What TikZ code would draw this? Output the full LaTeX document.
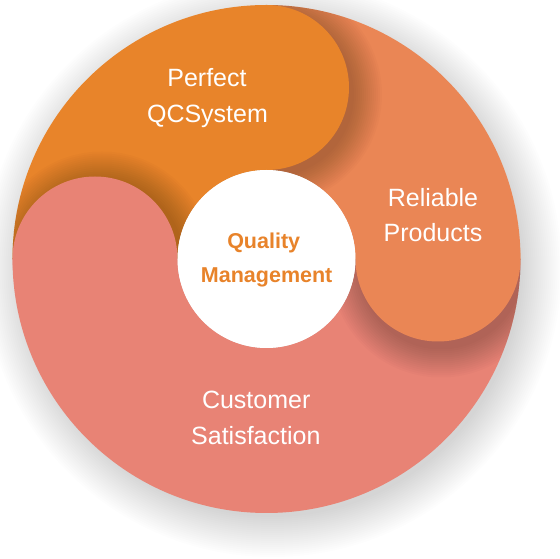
\documentclass[tikz,border=0pt]{standalone}
\usepackage{fontspec}
\setmainfont{Liberation Sans}
\usetikzlibrary{calc}
\definecolor{segOrange}{HTML}{E8842A}
\definecolor{segRight}{HTML}{EA8655}
\definecolor{segPink}{HTML}{E88375}
\definecolor{qmText}{HTML}{E8832A}
\tikzset{
  lab/.style={anchor=base,inner sep=0pt,text=white,font=\fontsize{25}{30}\selectfont},
  qm/.style={anchor=base,inner sep=0pt,text=qmText,font=\bfseries\fontsize{21.5}{26}\selectfont},
  shadowlayer/.style={fill=black,opacity=0.017},
}
\begin{document}
\begin{tikzpicture}[x=1pt,y=1pt]
\def\R{254}\def\r{89}\def\m{171.5}\def\c{82.5}
\useasboundingbox (-266.5,-300) rectangle (293.5,259);
\fill[white] (-266.5,-300) rectangle (293.5,259);
% drop shadow of the whole disc
\foreach \k in {0,...,20}{\fill[black,opacity=0.009] (6,-9) circle ({\R-5+2*\k});}
% ring sectors
\fill[segRight] (0:\r) -- (0:\R) arc[start angle=0,end angle=90,radius=\R] -- (90:\r) arc[start angle=90,end angle=0,radius=\r] -- cycle;
\fill[segOrange] (90:\r) -- (90:\R) arc[start angle=90,end angle=180,radius=\R] -- (180:\r) arc[start angle=180,end angle=90,radius=\r] -- cycle;
\fill[segPink] (180:\r) -- (180:\R) arc[start angle=180,end angle=360,radius=\R] -- (360:\r) arc[start angle=360,end angle=180,radius=\r] -- cycle;
% shadow of the orange cap on the right sector
\begin{scope}
\clip (0:\r) -- (0:\R) arc[start angle=0,end angle=90,radius=\R] -- (90:\r) arc[start angle=90,end angle=0,radius=\r] -- cycle;
\foreach \k in {0,...,14}{\fill[shadowlayer] (5,\m-7) circle ({\c+2*\k});}
\end{scope}
% shadow of the right cap on the pink sector
\begin{scope}
\clip (180:\r) -- (180:\R) arc[start angle=180,end angle=360,radius=\R] -- (360:\r) arc[start angle=360,end angle=180,radius=\r] -- cycle;
\foreach \k in {0,...,14}{\fill[shadowlayer] (\m+3,-8) circle ({\c+2*\k});}
\end{scope}
% shadow of the pink cap on the orange sector
\begin{scope}
\clip (90:\r) -- (90:\R) arc[start angle=90,end angle=180,radius=\R] -- (180:\r) arc[start angle=180,end angle=90,radius=\r] -- cycle;
\foreach \k in {0,...,14}{\fill[shadowlayer] (-\m+7,-3) circle ({\c+2*\k});}
\end{scope}
% caps
\fill[segOrange] (90:\m) circle (\c);
\fill[segRight] (0:\m) circle (\c);
\fill[segPink] (180:\m) circle (\c);
% centre
\fill[white] (0,0) circle (\r);
% labels
\node[lab] (perfect) at (-59.5,172.3) {Perfect};
\node[lab] (qcsystem) at (-59,136.3) {QCSystem};
\node[lab] (reliable) at (166.5,52.3) {Reliable};
\node[lab] (products) at (166.5,17.3) {Products};
\node[lab] (customer) at (-10.3,-149.3) {Customer};
\node[lab] (satisfaction) at (-10.7,-185.3) {Satisfaction};
\node[qm] (quality) at (-2.8,10) {Quality};
\node[qm] (management) at (0.2,-24) {Management};
\end{tikzpicture}
\end{document}
